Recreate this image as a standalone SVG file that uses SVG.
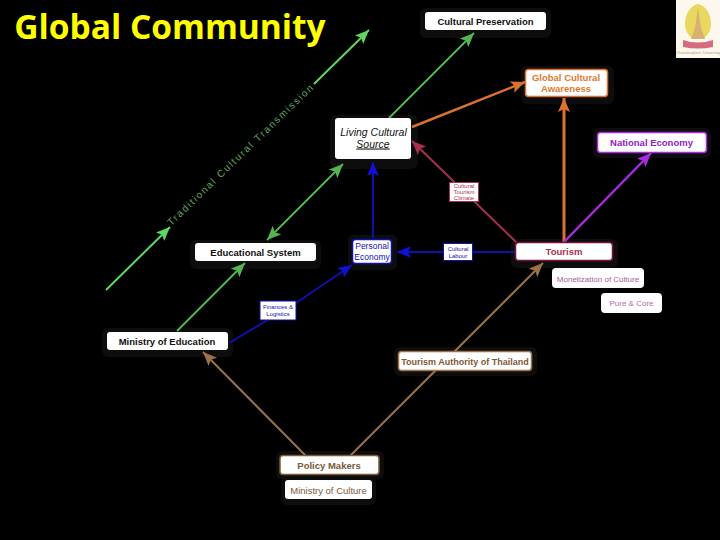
<svg xmlns="http://www.w3.org/2000/svg" width="720" height="540" viewBox="0 0 720 540">
<style>
text{font-family:"Liberation Sans",Arial,sans-serif;text-anchor:middle}
.b{fill:#fff}
.sh rect{fill:#0d0d0d}
.t{font-size:9.5px;font-weight:bold;fill:#111}
.s{font-size:6px}
.c line,.c polyline{fill:none}
</style>
<defs>
<marker id="ag" markerUnits="userSpaceOnUse" markerWidth="16" markerHeight="14" refX="14" refY="6" orient="auto-start-reverse"><path d="M0 0L14 6L0 12L3 6Z" fill="#5fd85f"/></marker>
<marker id="am" markerUnits="userSpaceOnUse" markerWidth="16" markerHeight="14" refX="14" refY="6" orient="auto-start-reverse"><path d="M0 0L14 6L0 12L3 6Z" fill="#52b552"/></marker>
<marker id="ab" markerUnits="userSpaceOnUse" markerWidth="16" markerHeight="14" refX="14" refY="6" orient="auto"><path d="M0 0L14 6L0 12L3 6Z" fill="#1010d8"/></marker>
<marker id="ar" markerUnits="userSpaceOnUse" markerWidth="16" markerHeight="14" refX="14" refY="6" orient="auto"><path d="M0 0L14 6L0 12L3 6Z" fill="#a8304f"/></marker>
<marker id="ao" markerUnits="userSpaceOnUse" markerWidth="16" markerHeight="14" refX="14" refY="6" orient="auto"><path d="M0 0L14 6L0 12L3 6Z" fill="#dc7230"/></marker>
<marker id="ap" markerUnits="userSpaceOnUse" markerWidth="16" markerHeight="14" refX="14" refY="6" orient="auto"><path d="M0 0L14 6L0 12L3 6Z" fill="#a82be0"/></marker>
<marker id="an" markerUnits="userSpaceOnUse" markerWidth="16" markerHeight="14" refX="14" refY="6" orient="auto"><path d="M0 0L14 6L0 12L3 6Z" fill="#9c7048"/></marker>
</defs>
<rect width="720" height="540" fill="#000"/>
<g class="sh">
<rect x="420" y="8" width="131" height="30" rx="6"/>
<rect x="521" y="66" width="93" height="38" rx="6"/>
<rect x="593" y="128" width="118" height="30" rx="6"/>
<rect x="330" y="115" width="88" height="54" rx="6"/>
<rect x="511" y="239" width="107" height="29" rx="6"/>
<rect x="348" y="235" width="49" height="35" rx="5"/>
<rect x="394" y="347" width="143" height="29" rx="6"/>
<rect x="190" y="240" width="131" height="29" rx="6"/>
<rect x="102" y="328" width="131" height="29" rx="6"/>
<rect x="276" y="451" width="108" height="28" rx="6"/>
<rect x="281" y="477" width="95" height="28" rx="6"/>
</g>
<text x="170" y="39" style="font-family:'Open Sans','Noto Sans',sans-serif;font-size:33.500px;font-weight:bold;fill:#ffff00;">Global Community</text>
<g class="c" stroke-width="2">
<line x1="106" y1="290" x2="170" y2="227" stroke="#5fd85f" marker-end="url(#ag)"/>
<line x1="314" y1="84" x2="369" y2="30" stroke="#5fd85f" marker-end="url(#ag)"/>
<line x1="389" y1="118" x2="474" y2="33" stroke="#52b552" marker-end="url(#am)"/>
<line x1="267" y1="240" x2="343" y2="164" stroke="#52b552" marker-start="url(#am)" marker-end="url(#am)"/>
<line x1="177" y1="331" x2="245" y2="263" stroke="#52b552" marker-end="url(#am)"/>
<polyline points="229,343 296,303 352,265" stroke="#1010b0" marker-end="url(#ab)"/>
<line x1="373" y1="238" x2="373" y2="162" stroke="#1010b0" marker-end="url(#ab)"/>
<line x1="515" y1="252" x2="397" y2="252" stroke="#1010b0" marker-end="url(#ab)"/>
<line x1="516" y1="242" x2="412" y2="141" stroke="#a8304f" marker-end="url(#ar)"/>
<line x1="564" y1="242" x2="564" y2="98" stroke="#dc7230" stroke-width="3" marker-end="url(#ao)"/>
<line x1="412" y1="127" x2="525" y2="82" stroke="#dc7230" stroke-width="2.500" marker-end="url(#ao)"/>
<line x1="564" y1="242" x2="651" y2="153" stroke="#a82be0" stroke-width="2.500" marker-end="url(#ap)"/>
<line x1="350" y1="456" x2="543" y2="263" stroke="#9c7048" marker-end="url(#an)"/>
<line x1="306" y1="456" x2="203" y2="352" stroke="#9c7048" marker-end="url(#an)"/>
</g>
<text transform="translate(243 157) rotate(-44)" style="font-size:10px;letter-spacing:1.650px;fill:#5fa85f;">Traditional Cultural Transmission</text>
<g id="cultural-preservation"><rect class="b" x="425" y="12" width="121" height="18" rx="3"/><text class="t" x="485.500" y="24.500">Cultural Preservation</text></g>
<g id="global-awareness"><rect x="525.500" y="69.500" width="82" height="27" rx="3" fill="#fff" stroke="#dc7230" stroke-width="1.500"/><text class="t" x="566" y="80.500" style="fill:#dc7a30">Global Cultural</text><text class="t" x="566" y="92" style="fill:#dc7a30">Awareness</text></g>
<g id="national-economy"><rect x="597.500" y="132.500" width="109" height="20" rx="3" fill="#fff" stroke="#a82be0" stroke-width="1.500"/><text class="t" x="651.500" y="146" style="fill:#9020c8">National Economy</text></g>
<g id="living-cultural-source"><rect class="b" x="335" y="118" width="76" height="41" rx="3"/><text x="373.500" y="136" style="font-size:10.500px;font-style:italic;fill:#111">Living Cultural</text><text x="373" y="147.500" style="font-size:10.500px;font-style:italic;text-decoration:underline;fill:#111">Source</text></g>
<g id="cultural-tourism-climate"><rect x="449.500" y="182.500" width="29" height="19" fill="#fff" stroke="#a8304f"/><text class="s" x="464" y="187.500" style="fill:#a8304f">Cultural</text><text class="s" x="464" y="193.500" style="fill:#a8304f">Tourism</text><text class="s" x="464" y="199.500" style="fill:#a8304f">Climate</text></g>
<g id="cultural-labour"><rect x="443.500" y="243.500" width="29" height="17" fill="#fff" stroke="#1010b0"/><text class="s" x="458" y="250.500" style="fill:#1010b0">Cultural</text><text class="s" x="458" y="257.500" style="fill:#1010b0">Labour</text></g>
<g id="tourism"><rect x="515.500" y="242.500" width="97" height="18" rx="3" fill="#fff" stroke="#7a1038" stroke-width="1.500"/><text class="t" x="564" y="255" style="fill:#a8304f">Tourism</text></g>
<g id="personal-economy"><rect x="352.500" y="239.500" width="39" height="24" rx="3" fill="#fff" stroke="#1010b0" stroke-width="1.500"/><text x="372" y="249" style="font-size:8.500px;fill:#1010b0">Personal</text><text x="372" y="259.500" style="font-size:8.500px;fill:#1010b0">Economy</text></g>
<g id="monetization"><rect x="552" y="268" width="92" height="20" rx="4" fill="#fff"/><text x="598" y="282" style="font-size:8px;fill:#a85a9a">Monetization of Culture</text></g>
<g id="pure-core"><rect x="601" y="293" width="61" height="20" rx="4" fill="#fff"/><text x="631.500" y="306" style="font-size:8px;fill:#b86aa8">Pure &amp; Core</text></g>
<g id="tourism-authority"><rect x="398.500" y="351.500" width="133" height="19" rx="3" fill="#fff" stroke="#9c7048" stroke-width="1.500"/><text class="t" x="465" y="364.500" style="fill:#7a5a38;font-size:9px">Tourism Authority of Thailand</text></g>
<g id="educational-system"><rect class="b" x="195" y="243" width="121" height="18" rx="3"/><text class="t" x="255.500" y="255.500">Educational System</text></g>
<g id="finance-logistics"><rect x="260" y="301" width="36" height="19" fill="#fff" stroke="#1010b0"/><text class="s" x="278" y="309" style="fill:#1010b0">Finances &amp;</text><text class="s" x="278" y="316" style="fill:#1010b0">Logistics</text></g>
<g id="ministry-education"><rect class="b" x="107" y="332" width="121" height="18" rx="3"/><text class="t" x="167" y="344.500">Ministry of Education</text></g>
<g id="policy-makers"><rect x="280" y="455.500" width="99" height="19" rx="3" fill="#fff" stroke="#7a5a38" stroke-width="1.500"/><text class="t" x="329" y="468.500" style="fill:#7a5a38">Policy Makers</text></g>
<g id="ministry-culture"><rect x="285" y="480" width="87" height="19" rx="3" fill="#fff"/><text x="328.500" y="493.500" style="font-size:9.500px;fill:#7a5a38">Ministry of Culture</text></g>
<g id="logo"><rect x="676" y="0" width="44" height="58" fill="#fdf8ee"/>
<path d="M698 4C706 6 711 14 711 24C711 31 707 36 704 38H692C689 36 685 31 685 24C685 14 690 6 698 4Z" fill="#e8d860"/>
<path d="M698 8L701 28L705 39H691L695 28Z" fill="#d8b070"/>
<path d="M683 40Q698 45 713 40V47Q698 50 683 47Z" fill="#d86a80"/>
<text x="698" y="54" style="font-size:4px;fill:#b09880">Chulalongkorn University</text></g>
</svg>
